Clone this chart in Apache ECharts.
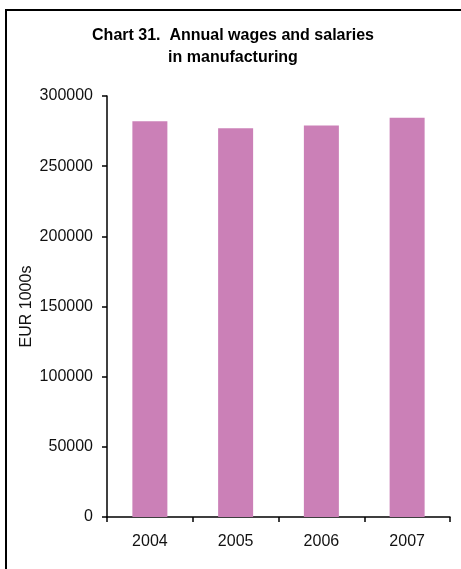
<!DOCTYPE html>
<html>
<head>
<meta charset="utf-8">
<script src="https://cdn.jsdelivr.net/npm/echarts@6/dist/echarts.min.js"></script>
<style>
html,body{margin:0;padding:0;background:#fff;}
#c{width:461px;height:569px;}
</style>
</head>
<body>
<div id="c"></div>
<script>
const categories = ['2004', '2005', '2006', '2007'];
const wages = [282000, 277000, 279000, 284500];
const yTicks = [0, 50000, 100000, 150000, 200000, 250000, 300000];
const titleText = 'Chart 31.  Annual wages and salaries\nin manufacturing';
const yAxisName = 'EUR 1000s';

const FONT = 'Liberation Sans, Arial, sans-serif';
const chart = echarts.init(document.getElementById('c'), null, {renderer: 'canvas'});
chart.setOption({
  animation: false,
  backgroundColor: '#fff',
  textStyle: {fontFamily: FONT},
  title: {
    text: titleText,
    left: 228,
    top: 20,
    textAlign: 'center',
    textStyle: {fontSize: 16, fontWeight: 'bold', color: '#000', lineHeight: 22, fontFamily: FONT, align: 'center'}
  },
  graphic: [{
    type: 'polyline',
    shape: {points: [[6, 569], [6, 10], [461, 10]]},
    style: {stroke: '#000', lineWidth: 2, fill: null},
    silent: true
  }],
  grid: {left: 107, right: 11, top: 96, bottom: 52, containLabel: false},
  xAxis: {
    type: 'category',
    data: categories,
    boundaryGap: true,
    axisLine: {lineStyle: {color: '#000', width: 1.5}},
    axisTick: {show: true, alignWithLabel: false, length: 5, lineStyle: {color: '#000', width: 1.5}},
    axisLabel: {color: '#111', fontSize: 16, margin: 17, fontFamily: FONT}
  },
  yAxis: {
    type: 'value',
    min: yTicks[0],
    max: yTicks[yTicks.length - 1],
    interval: yTicks[1] - yTicks[0],
    name: yAxisName,
    nameLocation: 'middle',
    nameRotate: 90,
    nameGap: 72,
    nameMoveOverlap: false,
    nameTextStyle: {color: '#111', fontSize: 16, fontFamily: FONT},
    splitLine: {show: false},
    axisLine: {show: true, lineStyle: {color: '#000', width: 1.5}},
    axisTick: {show: true, length: 5, lineStyle: {color: '#000', width: 1.5}},
    axisLabel: {color: '#111', fontSize: 16, margin: 14, fontFamily: FONT, formatter: function (v) { return String(v); }}
  },
  series: [{
    type: 'bar',
    data: wages,
    barWidth: 35,
    itemStyle: {color: '#CB80B7'}
  }]
});
</script>
</body>
</html>
